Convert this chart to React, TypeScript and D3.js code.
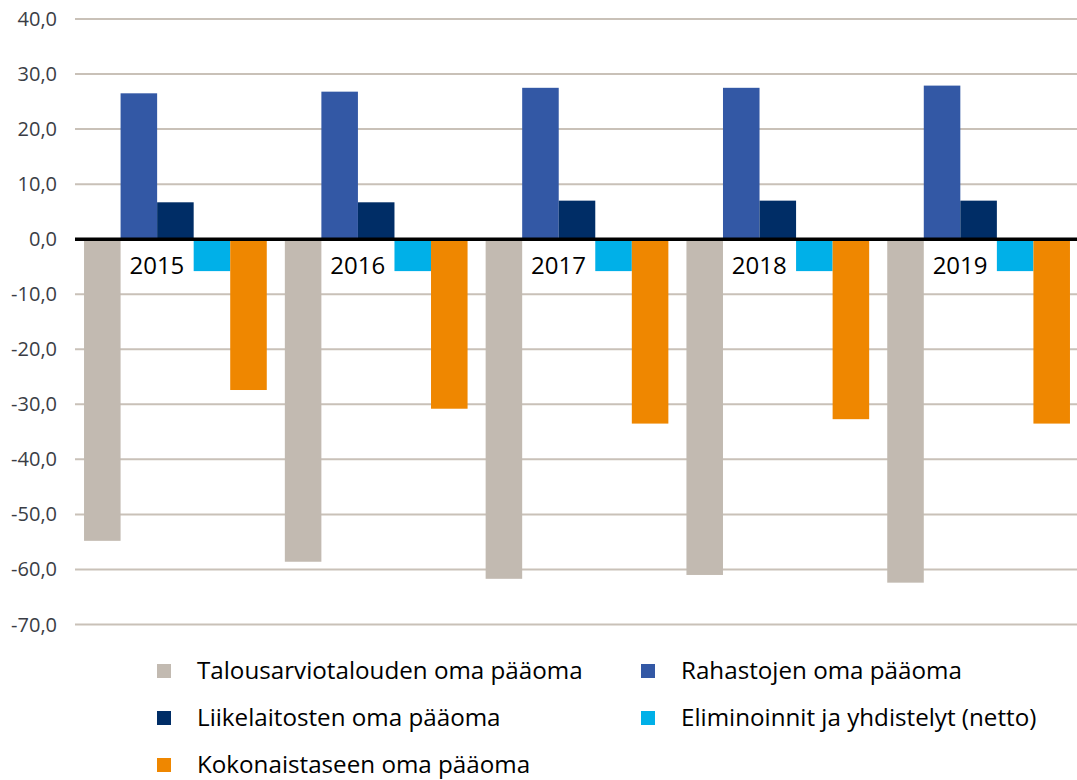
import { useMemo } from 'react';
import * as d3 from 'd3';

const WIDTH = 1077;
const HEIGHT = 780;
const MARGIN = { top: 19, right: -2, bottom: 155, left: 75 };

const years = ['2015', '2016', '2017', '2018', '2019'];
const seriesNames = [
  'Talousarviotalouden oma pääoma',
  'Rahastojen oma pääoma',
  'Liikelaitosten oma pääoma',
  'Eliminoinnit ja yhdistelyt (netto)',
  'Kokonaistaseen oma pääoma',
];
const seriesColors = ['#c2bab1', '#3358a5', '#002d66', '#00b0e8', '#ef8700'];

const talousarvio = [-54.8, -58.6, -61.7, -61.0, -62.4];
const rahastot = [26.5, 26.8, 27.5, 27.5, 27.9];
const liikelaitokset = [6.7, 6.7, 7.0, 7.0, 7.0];
const eliminoinnit = [-5.8, -5.8, -5.8, -5.8, -5.8];
const kokonais = [-27.4, -30.8, -33.5, -32.7, -33.5];

const yTicks = [40, 30, 20, 10, 0, -10, -20, -30, -40, -50, -60, -70];

const FONT = '"Open Sans", sans-serif';

export default function App() {
  const series = [talousarvio, rahastot, liikelaitokset, eliminoinnit, kokonais];
  const innerWidth = WIDTH - MARGIN.left - MARGIN.right;
  const innerHeight = 624.5 - MARGIN.top;

  const x0 = useMemo(
    () => d3.scaleBand().domain(years).range([0, innerWidth]).paddingInner(0.09).paddingOuter(0.045),
    [innerWidth]
  );
  const x1 = useMemo(
    () => d3.scaleBand().domain(d3.range(seriesNames.length).map(String)).range([0, x0.bandwidth()]),
    [x0]
  );
  const y = useMemo(() => d3.scaleLinear().domain([-70, 40]).range([innerHeight, 0]), [innerHeight]);

  const fmt = (v: number) => d3.format('.1f')(v).replace('.', ',').replace('−', '-');

  const legendPos = [
    { x: 157, y: 671 },
    { x: 641, y: 671 },
    { x: 157, y: 718 },
    { x: 641, y: 718 },
    { x: 157, y: 765 },
  ];

  return (
    <svg
      width={WIDTH}
      height={HEIGHT}
      style={{ position: 'absolute', left: 0, top: 0, background: '#fff' }}
      fontFamily={FONT}
    >
      <g transform={`translate(${MARGIN.left},${MARGIN.top})`}>
        {yTicks.map((t) => (
          <g key={t} transform={`translate(0,${y(t)})`}>
            <line x1={0} x2={WIDTH - MARGIN.left} stroke="#c9c1b8" strokeWidth={2} />
            <text x={-18} dy="0.35em" textAnchor="end" fontSize={20} fill="#3a3d45">
              {fmt(t)}
            </text>
          </g>
        ))}
        {years.map((yr, i) => (
          <g key={yr} transform={`translate(${x0(yr)},0)`}>
            {series.map((s, j) => {
              const v = s[i];
              return (
                <rect
                  key={j}
                  x={x1(String(j))}
                  width={x1.bandwidth()}
                  y={y(Math.max(0, v))}
                  height={Math.abs(y(v) - y(0))}
                  fill={seriesColors[j]}
                />
              );
            })}
            <text
              x={x0.bandwidth() / 2 - 18.5}
              y={y(0) + 35}
              textAnchor="middle"
              fontSize={24}
              fill="#000"
            >
              {yr}
            </text>
          </g>
        ))}
        <line x1={0} x2={WIDTH - MARGIN.left} y1={y(0)} y2={y(0)} stroke="#000" strokeWidth={3.5} />
      </g>
      {seriesNames.map((name, j) => (
        <g key={name} transform={`translate(${legendPos[j].x},${legendPos[j].y})`}>
          <rect x={0} y={-7} width={14} height={14} fill={seriesColors[j]} />
          <text x={40} dy="0.35em" fontSize={24.2} fill="#000">
            {name}
          </text>
        </g>
      ))}
    </svg>
  );
}
